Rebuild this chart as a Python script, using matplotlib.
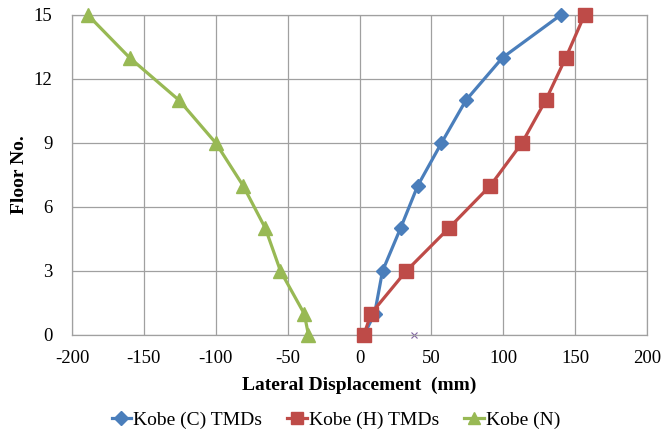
import matplotlib
matplotlib.use("Agg")
import matplotlib.pyplot as plt

plt.rcParams['font.family'] = ['Liberation Serif', 'DejaVu Serif']
plt.rcParams['axes.unicode_minus'] = False

floors = [0, 1, 3, 5, 7, 9, 11, 13, 15]
kobe_c = [3, 10.5, 16, 28.5, 40.5, 57, 74, 99.5, 140]
kobe_h = [3, 8, 32.5, 62, 91, 113, 129.5, 143.5, 156.5]
kobe_n = [-35.5, -38.5, -55, -65.5, -81, -100, -125.5, -160, -189]
stray_x = [38]
stray_y = [0]

fig = plt.figure(figsize=(6.65, 4.36), dpi=100)
ax = fig.add_axes([0.1083, 0.2317, 0.8647, 0.734])

ax.plot(kobe_c, floors, color='#4a7ebb', lw=2.3, marker='D', ms=7.5,
        label='Kobe (C) TMDs', zorder=3, clip_on=False)
ax.plot(kobe_h, floors, color='#be4b48', lw=2.3, marker='s', ms=9.5,
        label='Kobe (H) TMDs', zorder=4, clip_on=False)
ax.plot(kobe_n, floors, color='#98b954', lw=2.3, marker='^', ms=9.5,
        label='Kobe (N)', zorder=3, clip_on=False)
ax.plot(stray_x, stray_y, ls='none', marker='x', ms=4, mew=0.8,
        color='#8064a2', zorder=2, clip_on=False)

ax.set_xlim(-200, 200)
ax.set_ylim(0, 15)
ax.set_xticks(range(-200, 201, 50))
ax.set_yticks(range(0, 16, 3))
ax.grid(True, color='#a0a0a0', lw=0.9)
ax.set_axisbelow(True)
for s in ax.spines.values():
    s.set_color('#a0a0a0')
    s.set_linewidth(0.9)
ax.tick_params(length=0, labelsize=13.5)
ax.tick_params(axis='x', pad=11)
ax.tick_params(axis='y', pad=14)

ax.set_xlabel('Lateral Displacement  (mm)', fontsize=14, fontweight='bold', labelpad=7)
ax.set_ylabel('Floor No.', fontsize=14, fontweight='bold', labelpad=4)

fig.legend(loc='center', bbox_to_anchor=(0.505, 0.037), ncol=3, frameon=False,
           fontsize=14, handlelength=1.0, handletextpad=0.1, columnspacing=1.3,
           markerscale=0.9, borderaxespad=0)

fig.savefig('out.png', dpi=100)
